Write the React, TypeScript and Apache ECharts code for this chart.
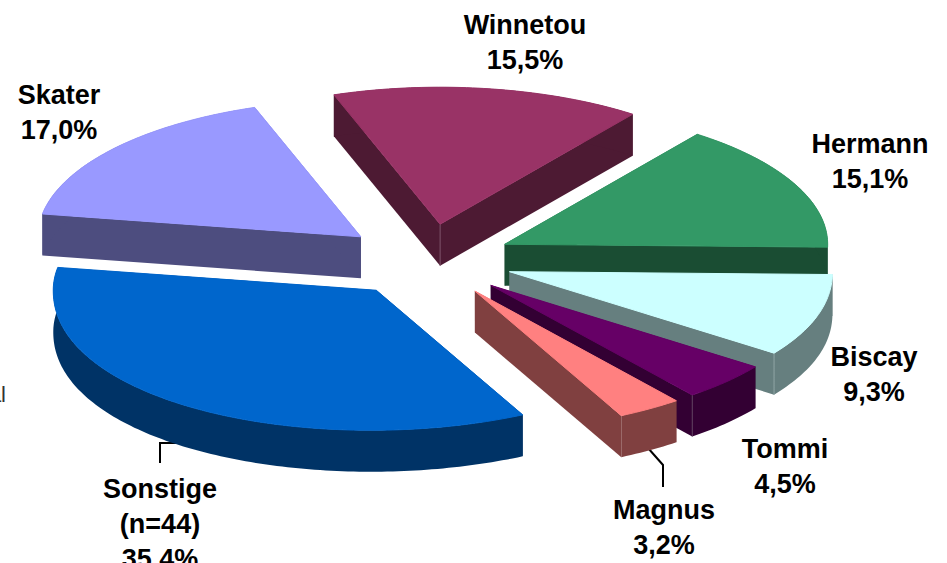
import React, { useEffect, useRef } from "react";
import * as echarts from "echarts";

// Data, clockwise from the Hermann slice
const categories = ["Hermann", "Biscay", "Tommi", "Magnus", "Sonstige", "Skater", "Winnetou"];
const notes = ["", "", "", "", "(n=44)", "", ""];
const shares = [15.1, 9.3, 4.5, 3.2, 35.4, 17.0, 15.5];

// Styles
const topColors = ["#339966", "#CCFFFF", "#660066", "#FF8080", "#0066CC", "#9999FF", "#993366"];
const sideColors = ["#1A4D33", "#667F7F", "#330033", "#804040", "#003366", "#4D4D7F", "#4D1A33"];
const edgeColors = ["", "#8FA6A6", "#5A3A5A", "", "", "", "#7A4F66"];

// Layout
const WIDTH = 947;
const HEIGHT = 563;
const CX = 427;
const CY = 260.5;
const RX = 323;
const RY_BACK = 137;
const RY_FRONT = 140;
const FRONT_WARP_DEG = 1;
const FRONT_POWER = 0.95;
const DEPTH = 41.5;
const EXPLODE = 0.268;
const START_DEG = -53.4;
const labelAnchors = [
  [870, 144], [874, 357], [785, 449], [664, 510], [160, 489], [59, 95], [525, 25],
];
const LINE_GAP = 35;
const leaderLines = [
  [[187, 443], [160, 443], [160, 463]],
  [[648, 448], [663, 465], [663, 487]],
];

type Pt = [number, number];
const RAD = Math.PI / 180;

function rimPoint(ax: number, ay: number, deg: number): Pt {
  const s = Math.sin(deg * RAD);
  if (s > 0) {
    const t = (deg + FRONT_WARP_DEG * s) * RAD;
    return [ax + RX * Math.cos(t), ay + RY_FRONT * Math.pow(s, FRONT_POWER)];
  }
  return [ax + RX * Math.cos(deg * RAD), ay + RY_BACK * s];
}

function wedge(index: number) {
  const total = shares.reduce((a, b) => a + b, 0);
  const before = shares.slice(0, index).reduce((a, b) => a + b, 0);
  const a0 = START_DEG + (before / total) * 360;
  const a1 = a0 + (shares[index] / total) * 360;
  const mid = ((a0 + a1) / 2) * RAD;
  const ax = CX + EXPLODE * RX * Math.cos(mid);
  const ay = CY + EXPLODE * RY_BACK * Math.sin(mid);
  const arc: Pt[] = [];
  const steps = Math.max(4, Math.ceil(a1 - a0));
  for (let i = 0; i <= steps; i++) {
    arc.push(rimPoint(ax, ay, a0 + ((a1 - a0) * i) / steps));
  }
  return { apex: [ax, ay] as Pt, arc };
}

const shift = (p: Pt): Pt => [p[0], p[1] + DEPTH];

function renderSlice(params: any) {
  const i = params.dataIndex;
  const { apex, arc } = wedge(i);
  const first = arc[0];
  const last = arc[arc.length - 1];
  const side = { fill: sideColors[i], stroke: "none" };
  const children: any[] = [
    { type: "polygon", shape: { points: [apex, first, shift(first), shift(apex)] }, style: side },
    { type: "polygon", shape: { points: [apex, last, shift(last), shift(apex)] }, style: side },
    { type: "polygon", shape: { points: [...arc, ...arc.slice().reverse().map(shift)] }, style: side },
  ];
  if (edgeColors[i]) {
    const corner: Pt = i === 6 ? apex : last;
    children.push({
      type: "line",
      shape: { x1: corner[0], y1: corner[1], x2: corner[0], y2: corner[1] + DEPTH },
      style: { stroke: edgeColors[i], lineWidth: 1 },
    });
  }
  children.push({
    type: "polygon",
    shape: { points: [apex, ...arc] },
    style: { fill: topColors[i], stroke: topColors[i], lineWidth: 1 },
  });
  return { type: "group", children };
}

function renderLabel(params: any) {
  const i = params.dataIndex;
  const lines = [categories[i]];
  if (notes[i]) lines.push(notes[i]);
  lines.push(shares[i].toFixed(1).replace(".", ",") + "%");
  const [x, y] = labelAnchors[i];
  return {
    type: "group",
    children: lines.map((text, k) => ({
      type: "text",
      style: {
        text,
        x,
        y: y + k * LINE_GAP,
        align: "center",
        verticalAlign: "middle",
        fill: "#000000",
        font: 'bold 27px "Liberation Sans", Arial, sans-serif',
      },
    })),
  };
}

export default function App() {
  const ref = useRef<HTMLDivElement>(null);
  useEffect(() => {
    if (!ref.current) return;
    document.body.style.margin = "0";
    const chart = echarts.init(ref.current, undefined, { renderer: "svg" });
    chart.setOption({
      animation: false,
      backgroundColor: "#ffffff",
      tooltip: { show: false },
      graphic: [
        ...leaderLines.map((points) => ({
          type: "polyline",
          z: 1,
          shape: { points },
          style: { stroke: "#000000", lineWidth: 2, fill: "none" },
        })),
        {
          type: "text",
          z: 1,
          style: {
            text: "al",
            x: 6,
            y: 394,
            align: "right",
            verticalAlign: "middle",
            fill: "#333333",
            font: '22px "Liberation Sans", Arial, sans-serif',
          },
        },
      ],
      series: [
        {
          type: "custom",
          name: "Slices",
          coordinateSystem: "none",
          silent: true,
          z: 2,
          clip: false,
          renderItem: renderSlice,
          data: shares.map((value, i) => ({ name: categories[i], value })),
        },
        {
          type: "custom",
          name: "Labels",
          coordinateSystem: "none",
          silent: true,
          z: 3,
          clip: false,
          renderItem: renderLabel,
          data: shares.map((value, i) => ({ name: categories[i], value })),
        },
      ],
    });
    return () => chart.dispose();
  }, []);
  return <div ref={ref} style={{ width: WIDTH, height: HEIGHT }} />;
}
